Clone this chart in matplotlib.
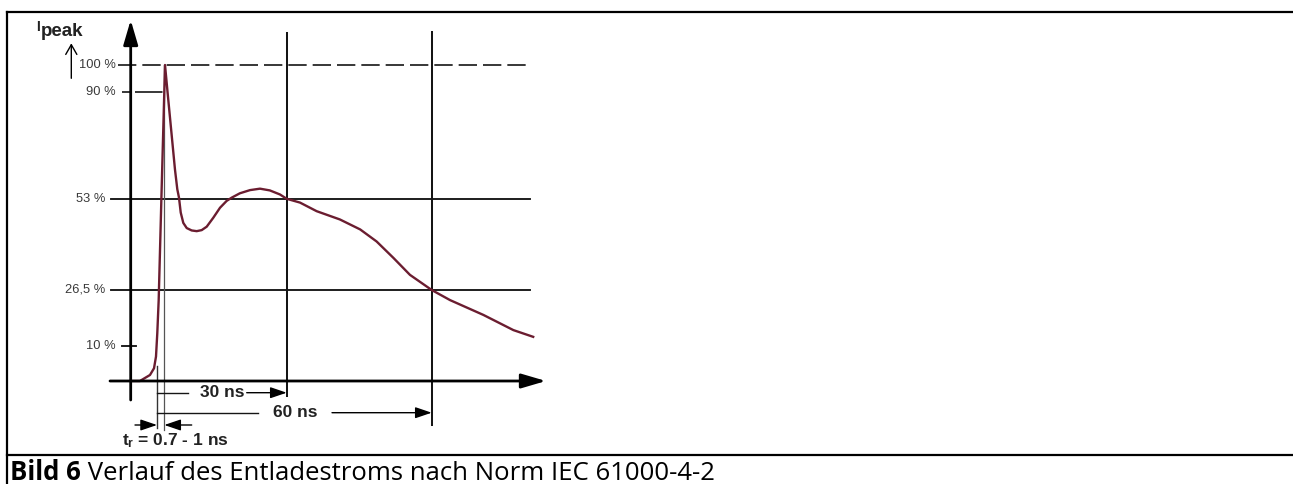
import numpy as np
import matplotlib
matplotlib.use('Agg')
import matplotlib.pyplot as plt
from matplotlib.lines import Line2D

plt.rcParams['font.family'] = ['Liberation Sans', 'DejaVu Sans']
plt.rcParams['mathtext.fontset'] = 'custom'
plt.rcParams['mathtext.bf'] = 'Liberation Sans:bold'
plt.rcParams['mathtext.rm'] = 'Liberation Sans'

# ESD current
# time in ns counted from the 10 % point, current in % of I_peak
t_ns = [-6.0, -3.9, -1.6, -0.68, -0.23, 0.04, 0.23, 0.6, 1.0, 1.17,
        1.76, 3.53, 4.08, 4.48, 4.89, 5.5, 6.31, 7.49, 8.68, 9.86,
        11.05, 12.61, 14.2, 15.78, 16.97, 18.9, 21.3, 23.67, 26.0, 28.4,
        30.0, 32.75, 36.2, 41.0, 45.2, 48.6, 52.1, 55.5, 60.0, 63.8,
        70.7, 76.9, 81.0]
i_pct = [0, 0, 1.7, 3.6, 6.9, 13.7, 23.5, 53, 90, 100,
         90, 63.1, 56.3, 53.4, 49.0, 46.0, 44.5, 43.8, 43.6, 43.9,
         44.9, 47.5, 50.4, 52.4, 53.4, 54.9, 56.0, 56.5, 55.9, 54.5,
         53.0, 51.9, 49.4, 47.0, 44.1, 40.6, 35.8, 30.9, 26.5, 23.5,
         19.1, 14.6, 12.6]

levels = [10, 26.5, 53, 90, 100]
level_labels = ['10 %', '26,5 %', '53 %', '90 %', '100 %']
full_lines = [53, 26.5]   # levels drawn across the whole chart

t_rise = 1.0      # end of rise time
t_marks = [30, 60]
mark_labels = ['30 ns', '60 ns']

W, H = 1293, 484

# the drawing is a sketch, not to scale -> piecewise scales
X_NS = [-40, 0, 1, 30, 60, 240]
X_PX = [-18.3, 157, 164.3, 286.7, 431.7, 1301.6]
Y_LV = [-40, 0, 10, 26.5, 53, 90, 100, 160]
Y_PX = [-38.6, 103, 138.4, 194, 285.2, 392.3, 419, 579.2]


def fx(v):
    return np.interp(v, X_NS, X_PX)


def fx_inv(v):
    return np.interp(v, X_PX, X_NS)


def fy(v):
    return np.interp(v, Y_LV, Y_PX)


def fy_inv(v):
    return np.interp(v, Y_PX, Y_LV)


# pixel (from top left) -> data, only for the decoration
def X(px):
    return float(fx_inv(px))


def Y(py):
    return float(fy_inv(H - py))


fig = plt.figure(figsize=(W / 100, H / 100), dpi=100)
ax = fig.add_axes([0, 0, 1, 1])
ax.set_xscale('function', functions=(fx, fx_inv))
ax.set_yscale('function', functions=(fy, fy_inv))
ax.set_xlim(X(0), X(W))
ax.set_ylim(Y(H), Y(0))
ax.axis('off')

line_c = '#151515'
txt_c = '#3a3a3a'

# horizontal levels
ax.plot([X(118), X(530)], [100, 100], color=line_c, lw=1.2, dashes=(11, 3.6))
ax.plot([X(121.7), t_rise], [90, 90], color=line_c, lw=1.2, dashes=(5.5, 2.3, 16.5, 2.8))
for lv in full_lines:
    ax.plot([X(111), X(530)], [lv, lv], color=line_c, lw=1.35)
ax.plot([X(121.7), X(136)], [10, 10], color=line_c, lw=1.35)
for lv, lab in zip(levels, level_labels):
    xr = X(105) if lv in full_lines else X(116)
    ax.text(xr, lv, lab, ha='right', va='center', fontsize=9.3, color=txt_c)

# vertical marks
ax.plot([0, 0], [Y(366), Y(428)], color='#333333', lw=1.0)
ax.plot([t_rise, t_rise], [100, Y(430)], color='#555555', lw=0.9)
ax.plot([30, 30], [Y(33), Y(396)], color=line_c, lw=1.45)
ax.plot([60, 60], [Y(32), Y(425)], color=line_c, lw=1.45)

# axes with arrows
head = '-|>,head_length=0.75,head_width=0.22'
ax.annotate('', xy=(X(130.7), Y(20)), xytext=(X(130.7), Y(400)),
            arrowprops=dict(arrowstyle=head, color='k', lw=2.0, shrinkA=0, shrinkB=0, mutation_scale=20))
ax.annotate('', xy=(X(546), 0), xytext=(X(110), 0),
            arrowprops=dict(arrowstyle=head, color='k', lw=2.0, shrinkA=0, shrinkB=0, mutation_scale=20))

# waveform
ax.plot(t_ns, i_pct, color='#6b1d30', lw=1.7, solid_joinstyle='round')

# time annotations below the axis
small_head = '-|>,head_length=0.5,head_width=0.17'
rows = [(392.7, 188, 222, 246.7), (412.7, 258, 295, 332)]
for tm, lab, (py, x1, xt, x2) in zip(t_marks, mark_labels, rows):
    ax.plot([0, X(x1)], [Y(py), Y(py)], color=line_c, lw=1.0)
    ax.text(X(xt), Y(py), lab, ha='center', va='center', fontsize=12.5, weight='bold', color='#222222')
    ax.annotate('', xy=(tm, Y(py)), xytext=(X(x2), Y(py)),
                arrowprops=dict(arrowstyle=small_head, color='k', lw=1.0, shrinkA=0, shrinkB=0, mutation_scale=20))

ax.annotate('', xy=(0, Y(425)), xytext=(X(135), Y(425)),
            arrowprops=dict(arrowstyle=small_head, color='k', lw=1.0, shrinkA=0, shrinkB=0, mutation_scale=20))
ax.annotate('', xy=(t_rise, Y(425)), xytext=(X(191.7), Y(425)),
            arrowprops=dict(arrowstyle=small_head, color='k', lw=1.0, shrinkA=0, shrinkB=0, mutation_scale=20))
ax.text(X(175), Y(440.5), r'$\mathbf{t_r}$ = 0.7 - 1 ns', ha='center', va='center',
        fontsize=12.5, weight='bold', color='#222222')

# I_peak label with arrow
fig.text(36.5 / W, 1 - 31 / H, 'I', fontsize=10, weight='bold', va='baseline', color='#222222')
fig.text(40.5 / W, 1 - 36 / H, 'peak', fontsize=13.5, weight='bold', va='baseline', color='#222222')
ax.annotate('', xy=(71.3, H - 43.3), xytext=(71.3, H - 78.3), xycoords='figure pixels',
            arrowprops=dict(arrowstyle='->,head_length=0.35,head_width=0.2', color='k', lw=1.0,
                            shrinkA=0, shrinkB=0, mutation_scale=20))

# frame and caption
fig.add_artist(Line2D([7 / W, 1], [1 - 12 / H, 1 - 12 / H], transform=fig.transFigure, color='k', lw=1.6))
fig.add_artist(Line2D([7 / W, 1], [1 - 455 / H, 1 - 455 / H], transform=fig.transFigure, color='k', lw=1.6))
fig.add_artist(Line2D([7 / W, 7 / W], [1 - 12 / H, 0], transform=fig.transFigure, color='k', lw=1.6))

cap1 = fig.text(10 / W, 1 - 479.5 / H, 'Bild 6', fontsize=18.5, weight='bold', family='Open Sans', va='baseline')
ax.annotate(' Verlauf des Entladestroms nach Norm IEC 61000-4-2', xy=(1, 0), xycoords=cap1,
            va='bottom', ha='left', fontsize=18.5, family='Open Sans')

fig.savefig('out.png', dpi=100)
